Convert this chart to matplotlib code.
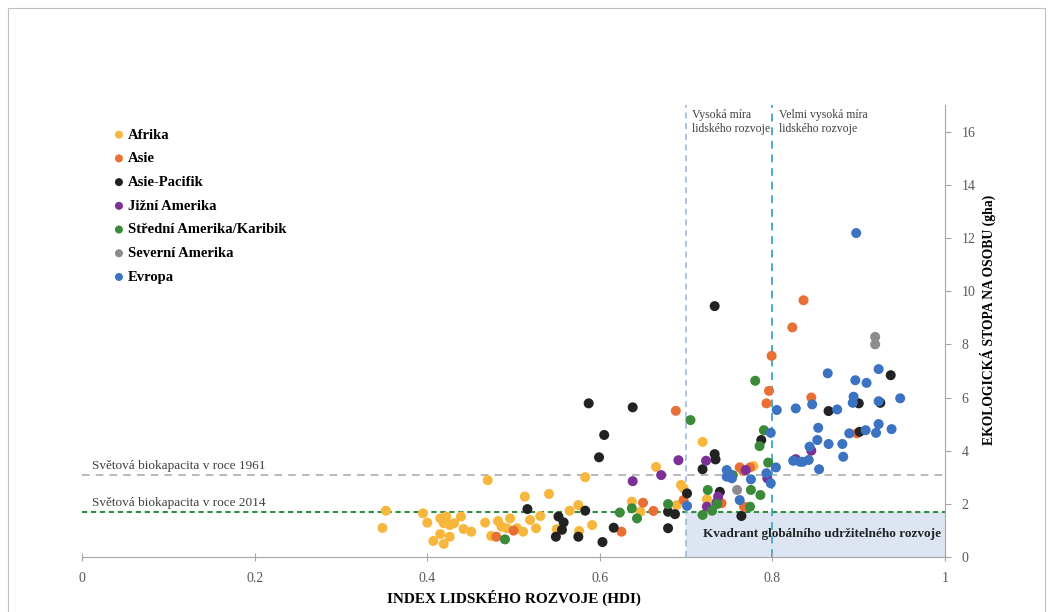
import matplotlib.pyplot as plt
from matplotlib.patches import Rectangle

plt.rcParams['font.family'] = ['Liberation Serif', 'DejaVu Serif']

# HDI (x) a ekologická stopa (y) podle regionů
afrika_x = [0.352, 0.348, 0.395, 0.400, 0.415, 0.422, 0.419, 0.426, 0.431, 0.439, 0.442, 0.451,
            0.415, 0.426, 0.407, 0.419, 0.470, 0.467, 0.513, 0.482, 0.486, 0.496, 0.492, 0.504,
            0.474, 0.541, 0.519, 0.526, 0.531, 0.575, 0.565, 0.583, 0.591, 0.576, 0.637, 0.647,
            0.665, 0.694, 0.697, 0.689, 0.511, 0.550, 0.719, 0.724, 0.778]
afrika_y = [1.74, 1.09, 1.64, 1.29, 1.45, 1.52, 1.27, 1.20, 1.27, 1.52, 1.05, 0.95,
            0.86, 0.76, 0.60, 0.49, 2.89, 1.29, 2.27, 1.35, 1.14, 1.45, 1.08, 1.08,
            0.79, 2.37, 1.39, 1.08, 1.54, 1.95, 1.74, 3.00, 1.20, 0.98, 2.08, 1.70,
            3.39, 2.71, 2.58, 1.95, 0.95, 1.04, 4.33, 2.17, 3.42]

asie_x = [0.480, 0.500, 0.650, 0.662, 0.625, 0.697, 0.688, 0.796, 0.793, 0.762, 0.766, 0.774,
          0.741, 0.767, 0.836, 0.823, 0.799, 0.845, 0.898]
asie_y = [0.76, 0.99, 2.04, 1.73, 0.95, 2.14, 5.50, 6.25, 5.78, 3.37, 3.24, 3.37,
          2.02, 1.89, 9.66, 8.64, 7.57, 6.00, 4.65]

pacifik_x = [0.516, 0.552, 0.558, 0.556, 0.549, 0.583, 0.575, 0.603, 0.616, 0.679, 0.687, 0.679,
             0.701, 0.587, 0.638, 0.605, 0.599, 0.787, 0.733, 0.734, 0.719, 0.739, 0.764, 0.733,
             0.937, 0.925, 0.900, 0.865, 0.901]
pacifik_y = [1.80, 1.52, 1.30, 1.02, 0.76, 1.74, 0.76, 0.56, 1.10, 1.70, 1.61, 1.08,
             2.39, 5.78, 5.63, 4.59, 3.75, 4.40, 3.87, 3.67, 3.30, 2.45, 1.54, 9.44,
             6.84, 5.80, 5.78, 5.49, 4.71]

jizni_x = [0.638, 0.671, 0.691, 0.723, 0.769, 0.794, 0.737, 0.735, 0.724, 0.845, 0.827]
jizni_y = [2.85, 3.08, 3.64, 3.62, 3.27, 2.96, 2.27, 2.04, 1.89, 4.00, 3.68]

stredni_x = [0.490, 0.623, 0.637, 0.643, 0.679, 0.705, 0.780, 0.790, 0.785, 0.795, 0.754, 0.775,
             0.786, 0.725, 0.736, 0.730, 0.774, 0.719]
stredni_y = [0.66, 1.67, 1.83, 1.45, 1.99, 5.15, 6.63, 4.77, 4.17, 3.55, 3.08, 2.52,
             2.33, 2.52, 1.99, 1.74, 1.89, 1.58]

severni_x = [0.759, 0.919, 0.919]
severni_y = [2.52, 8.28, 8.00]

evropa_x = [0.701, 0.805, 0.827, 0.798, 0.804, 0.824, 0.832, 0.747, 0.750, 0.753, 0.747, 0.775,
            0.798, 0.793, 0.762, 0.897, 0.923, 0.864, 0.896, 0.909, 0.894, 0.948, 0.923, 0.893,
            0.846, 0.875, 0.853, 0.923, 0.938, 0.908, 0.889, 0.920, 0.852, 0.865, 0.881, 0.843,
            0.882, 0.835, 0.842, 0.854]
evropa_y = [1.92, 5.53, 5.59, 4.67, 3.37, 3.62, 3.58, 3.27, 3.12, 2.96, 3.02, 2.92,
            2.77, 3.15, 2.14, 12.19, 7.07, 6.91, 6.65, 6.55, 6.03, 5.97, 5.86, 5.80,
            5.74, 5.55, 4.86, 5.00, 4.81, 4.77, 4.65, 4.67, 4.40, 4.25, 4.25, 4.15,
            3.77, 3.58, 3.65, 3.30]

regiony = ['Afrika', 'Asie', 'Asie-Pacifik', 'Jižní Amerika', 'Střední Amerika/Karibik',
           'Severní Amerika', 'Evropa']
barvy = ['#f6b73c', '#e86f35', '#222222', '#7b2f97', '#3a8a3a', '#8c8c8c', '#3b73c2']
data = [(afrika_x, afrika_y), (asie_x, asie_y), (pacifik_x, pacifik_y), (jizni_x, jizni_y),
        (stredni_x, stredni_y), (severni_x, severni_y), (evropa_x, evropa_y)]

bio_1961 = 3.1
bio_2014 = 1.7
hranice_hdi = [0.7, 0.8]

fig = plt.figure(figsize=(10.53, 6.12), dpi=100)
ax = fig.add_axes([0.078, 0.09, 0.8195, 0.738])

# kvadrant udržitelného rozvoje
ax.add_patch(Rectangle((0.7, 0), 0.3, bio_2014, facecolor='#dce5f1', edgecolor='none', zorder=0))
ax.text(0.857, 0.85, 'Kvadrant globálního udržitelného rozvoje', ha='center', va='center',
        fontsize=9.5, fontweight='bold', color='#222222', zorder=1)

# čáry biokapacity a hranic HDI
ax.axhline(bio_1961, color='#a6a6a6', ls=(0, (5, 4)), lw=1.1, zorder=1)
ax.axhline(bio_2014, color='#2f8f3f', ls=(0, (2.5, 1.8)), lw=1.5, zorder=1)
ax.vlines(hranice_hdi[0], 0, 17, color='#95b3d7', ls=(0, (4, 3)), lw=1.1, zorder=1)
ax.vlines(hranice_hdi[1], 0, 17, color='#4bacc6', ls=(0, (4, 3)), lw=1.4, zorder=1)

ax.text(0.012, bio_1961 + 0.2, 'Světová biokapacita v roce 1961', fontsize=9.5, color='#404040')
ax.text(0.012, bio_2014 + 0.2, 'Světová biokapacita v roce 2014', fontsize=9.5, color='#404040')
ax.text(0.707, 16.85, 'Vysoká míra\nlidského rozvoje', va='top', fontsize=8.5, color='#404040',
        linespacing=1.2)
ax.text(0.807, 16.85, 'Velmi vysoká míra\nlidského rozvoje', va='top', fontsize=8.5, color='#404040',
        linespacing=1.2)

# body
for (x, y), nazev, barva in zip(data, regiony, barvy):
    ax.scatter(x, y, s=52, color=barva, label=nazev, edgecolors='none', zorder=3)

ax.set_xlim(0, 1)
ax.set_ylim(0, 17)
ax.set_xticks([0, 0.2, 0.4, 0.6, 0.8, 1])
ax.set_xticklabels(['0', '0.2', '0.4', '0.6', '0.8', '1'])
ax.set_yticks(range(0, 17, 2))
ax.yaxis.tick_right()
ax.yaxis.set_label_position('right')
ax.tick_params(axis='x', direction='inout', length=6, colors='#a6a6a6', labelcolor='#595959',
               labelsize=10, pad=8)
ax.tick_params(axis='y', direction='out', length=4, colors='#a6a6a6', labelcolor='#595959',
               labelsize=10, pad=8)
for s in ['left', 'top']:
    ax.spines[s].set_visible(False)
for s in ['bottom', 'right']:
    ax.spines[s].set_color('#a6a6a6')

ax.set_xlabel('INDEX LIDSKÉHO ROZVOJE (HDI)', fontsize=11, fontweight='bold', labelpad=3)
ax.set_ylabel('EKOLOGICKÁ STOPA NA OSOBU (gha)', fontsize=9.8, fontweight='bold')
ax.yaxis.set_label_coords(1.04, 0.525)

leg = ax.legend(loc='upper left', bbox_to_anchor=(0.019, 0.978), frameon=False,
                fontsize=10.5, handletextpad=0.1, labelspacing=0.72, markerscale=0.8,
                handlelength=1.0)
for t in leg.get_texts():
    t.set_fontweight('bold')

# rámeček kolem obrázku
fig.add_artist(Rectangle((8 / 1053, -0.02), 1037 / 1053, 1.02 - 8 / 612, transform=fig.transFigure,
                         fill=False, edgecolor='#bfbfbf', lw=0.8))

fig.savefig('out.png', dpi=100)
